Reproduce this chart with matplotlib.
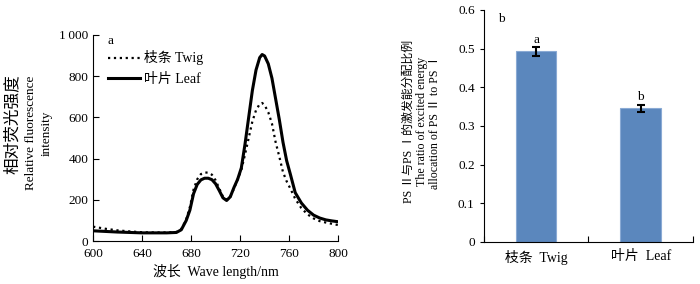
import matplotlib
matplotlib.use("Agg")
import matplotlib.pyplot as plt

plt.rcParams['font.family'] = ['Liberation Serif', 'Noto Sans CJK SC']
plt.rcParams['font.size'] = 9

# spectra (panel a)
wavelength = [600, 610, 620, 630, 640, 650, 660, 668, 672, 676, 679, 682, 685, 688,
              691, 694, 697, 700, 703, 706, 709, 712, 715, 718, 721, 724, 727, 730,
              733, 736, 738, 740, 743, 746, 749, 752, 755, 758, 761, 765, 770, 775,
              780, 785, 790, 795, 800]
twig = [70, 60, 52, 47, 43, 42, 42, 44, 58, 105, 165, 250, 300, 325,
        333, 332, 322, 295, 255, 215, 200, 215, 255, 300, 345, 420, 500, 580,
        635, 665, 670, 660, 625, 570, 480, 410, 335, 290, 255, 205, 160, 130,
        110, 97, 90, 84, 78]
leaf = [50, 47, 44, 42, 40, 40, 40, 42, 55, 100, 150, 230, 275, 297,
        305, 305, 298, 278, 245, 210, 197, 215, 260, 300, 355, 470, 600, 730,
        830, 890, 905, 898, 860, 790, 690, 590, 480, 390, 325, 235, 185, 150,
        126, 112, 103, 98, 94]

# ratio (panel b)
groups = ['枝条  Twig', '叶片  Leaf']
ratio = [0.493, 0.346]
ratio_err = [0.011, 0.009]
letters = ['a', 'b']

fig = plt.figure(figsize=(7, 2.84), dpi=100)

ax1 = fig.add_axes([0.133, 0.151, 0.350, 0.726])
ax1.plot(wavelength, twig, color='black', ls=':', lw=1.6, label='枝条 Twig')
ax1.plot(wavelength, leaf, color='black', ls='-', lw=2.2, label='叶片 Leaf')
ax1.set_xlim(600, 800)
ax1.set_ylim(0, 1000)
ax1.set_xticks([600, 640, 680, 720, 760, 800])
ax1.set_yticks([0, 200, 400, 600, 800, 1000])
ax1.set_yticklabels(['0', '200', '400', '600', '800', '1\u2009000'])
ax1.tick_params(direction='in', length=4, width=0.8, labelsize=9.5)
ax1.tick_params(axis='x', pad=5)
for s in ['top', 'right']:
    ax1.spines[s].set_visible(False)
ax1.set_xlabel('波长  Wave length/nm', fontsize=10, labelpad=3)
# y label: three lines, Chinese larger
fig.text(13 / 700, 1 - 124 / 284, '相对荧光强度', rotation=90, ha='center', va='center',
         fontsize=12, fontweight='medium')
fig.text(31 / 700, 1 - 133 / 284, 'Relative fluorescence', rotation=90, ha='center',
         va='center', fontsize=9.5)
fig.text(47 / 700, 1 - 133 / 284, 'intensity', rotation=90, ha='center', va='center',
         fontsize=9.5)
ax1.text(0.06, 1.0, 'a', transform=ax1.transAxes, fontsize=9.5, va='top')
ax1.legend(loc='upper left', bbox_to_anchor=(0.025, 0.965), frameon=False,
           handlelength=2.3, handletextpad=0.3, labelspacing=0.55, fontsize=10,
           borderaxespad=0.2)

ax2 = fig.add_axes([0.691, 0.148, 0.299, 0.817])
pos = [0.5, 1.5]
ax2.bar(pos, ratio, width=0.39, color='#5b87bd', edgecolor='#8aaad4', lw=0.8)
ax2.errorbar(pos, ratio, yerr=ratio_err, fmt='none', ecolor='black',
             elinewidth=1.5, capsize=3, capthick=1.5)
for p, v, e, t in zip(pos, ratio, ratio_err, letters):
    ax2.text(p, v + e + 0.004, t, ha='center', va='bottom', fontsize=9.5)
ax2.set_xlim(0, 2)
ax2.set_ylim(0, 0.6)
ax2.set_xticks(pos)
ax2.set_xticklabels(groups, fontsize=10)
ax2.tick_params(axis='x', length=0, pad=6)
ax2.set_xticks([0, 1, 2], minor=True)
ax2.tick_params(axis='x', which='minor', direction='in', length=4, width=0.8)
ax2.set_yticks([0, 0.1, 0.2, 0.3, 0.4, 0.5, 0.6])
ax2.set_yticklabels(['0', '0.1', '0.2', '0.3', '0.4', '0.5', '0.6'])
ax2.tick_params(axis='y', direction='out', length=3, width=0.8, labelsize=9.5)
for s in ['top', 'right']:
    ax2.spines[s].set_visible(False)
ax2.set_ylabel('PS Ⅱ与PS Ⅰ的激发能分配比例\nThe ratio of excited energy\nallocation of PS Ⅱ to PS Ⅰ',
               fontsize=8.6, linespacing=1.1)
ax2.yaxis.set_label_coords(-0.205, 0.52)
ax2.text(0.07, 0.985, 'b', transform=ax2.transAxes, fontsize=9.5, va='top')

fig.savefig('out.png', dpi=100)
